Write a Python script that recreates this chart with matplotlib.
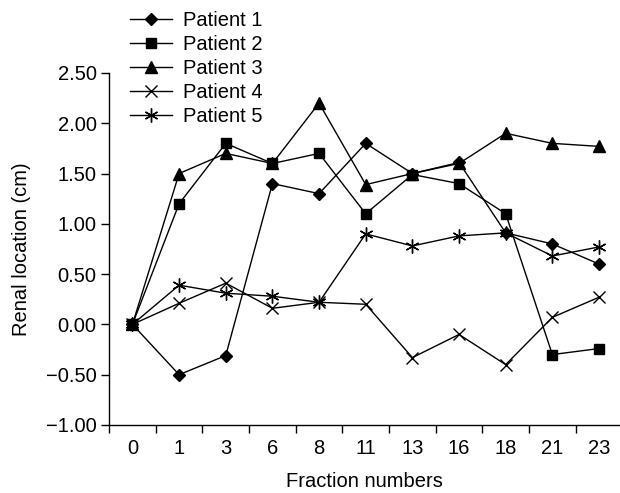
import matplotlib
matplotlib.use("Agg")
import matplotlib.pyplot as plt
from matplotlib.ticker import FixedLocator, FuncFormatter

plt.rcParams['font.family'] = ['Liberation Sans', 'DejaVu Sans']

fractions = ['0', '1', '3', '6', '8', '11', '13', '16', '18', '21', '23']
patient1 = [0, -0.50, -0.31, 1.40, 1.30, 1.80, 1.50, 1.61, 0.91, 0.80, 0.60]
patient2 = [0, 1.20, 1.80, 1.60, 1.70, 1.10, 1.49, 1.40, 1.10, -0.30, -0.24]
patient3 = [0, 1.50, 1.70, 1.60, 2.20, 1.39, 1.50, 1.60, 1.90, 1.80, 1.77]
patient4 = [0, 0.21, 0.41, 0.16, 0.22, 0.20, -0.33, -0.10, -0.40, 0.07, 0.27]
patient5 = [0, 0.39, 0.31, 0.28, 0.22, 0.90, 0.78, 0.88, 0.91, 0.68, 0.77]

series = [
    ('Patient 1', patient1, 'D', 6.5),
    ('Patient 2', patient2, 's', 6.5),
    ('Patient 3', patient3, '^', 8),
    ('Patient 4', patient4, 'x', 9),
    ('Patient 5', patient5, (6, 2, 0), 10),
]

fig = plt.figure(figsize=(6.2, 4.93), dpi=100)
ax = fig.add_axes([0.176, 0.138, 0.824, 0.714])

xs = range(len(fractions))
for name, vals, mk, ms in series:
    ax.plot(xs, vals, color='black', lw=1.0, marker=mk, markersize=ms,
            markeredgewidth=1.0, markerfacecolor='black', label=name)

ax.set_xlim(-0.5, 10.45)
ax.set_ylim(-1.0, 2.5)
ax.set_yticks([-1.0, -0.5, 0, 0.5, 1.0, 1.5, 2.0, 2.5])
ax.yaxis.set_major_formatter(FuncFormatter(lambda v, p: ('%.2f' % v).replace('-', '\u2212')))
ax.set_xticks(list(xs))
ax.set_xticklabels(fractions)
ax.xaxis.set_minor_locator(FixedLocator([i - 0.5 for i in range(len(fractions))]))
ax.tick_params(axis='x', which='major', length=0, pad=10, labelsize=14.5)
ax.tick_params(axis='x', which='minor', length=6, width=1, direction='out')
ax.tick_params(axis='y', length=6, width=1, direction='out', labelsize=14.5, pad=3)

for s in ['top', 'right']:
    ax.spines[s].set_visible(False)
for s in ['left', 'bottom']:
    ax.spines[s].set_linewidth(1.0)

ax.set_xlabel('Fraction numbers', fontsize=14.5, labelpad=10)
ax.set_ylabel('Renal location (cm)', fontsize=14.5, labelpad=11)

fig.legend(loc='upper left', bbox_to_anchor=(0.19, 1.002), frameon=False,
           fontsize=14.5, handlelength=2.1, handletextpad=0.55,
           labelspacing=0.245, borderpad=0.1)

fig.savefig('out.png', dpi=100)
